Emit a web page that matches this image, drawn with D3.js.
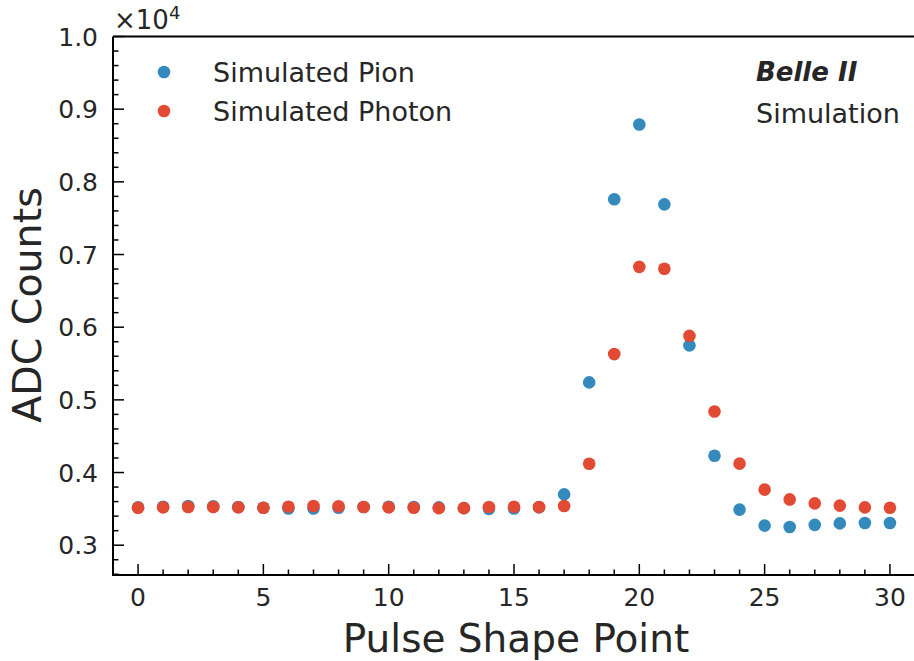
<!DOCTYPE html>
<html>
<head>
<meta charset="utf-8">
<script src="https://cdn.jsdelivr.net/npm/d3@7"></script>
<style>
  html, body { margin: 0; padding: 0; background: #fff; }
  svg { display: block; font-family: "DejaVu Sans", sans-serif; }
</style>
</head>
<body>
<svg id="chart" width="914" height="661"></svg>
<script>
// Pulse shape sample index
const points = d3.range(0, 31);

// ADC counts per sample point
const pionCounts = [3520, 3530, 3540, 3535, 3525, 3515, 3505, 3505, 3515, 3525,
                    3530, 3525, 3520, 3510, 3500, 3505, 3520, 3700, 5240, 7760,
                    8790, 7690, 5750, 4230, 3490, 3270, 3250, 3280, 3300, 3305, 3305];
const photonCounts = [3515, 3520, 3525, 3525, 3520, 3515, 3530, 3540, 3535, 3525,
                      3520, 3515, 3510, 3510, 3525, 3530, 3525, 3540, 4120, 5630,
                      6830, 6805, 5880, 4840, 4122, 3765, 3630, 3575, 3545, 3520, 3515];

const seriesNames = ["Simulated Pion", "Simulated Photon"];
const seriesColors = ["#348ABD", "#E24A33"];

const xTicks = [0, 5, 10, 15, 20, 25, 30];
const yTicks = [3000, 4000, 5000, 6000, 7000, 8000, 9000, 10000];

const svg = d3.select("#chart");
const plotLeft = 113, plotRight = 915, plotTop = 36.5, plotBottom = 575;

const x = d3.scaleLinear().domain([-1, 31]).range([plotLeft, plotRight]);
const y = d3.scaleLinear().domain([2590, 10000]).range([plotBottom, plotTop]);

const fmtY = v => (v / 1e4).toFixed(1);

// minor ticks
const xMinor = d3.range(-1, 32).filter(v => v % 5 !== 0);
const yMinor = d3.range(2600, 10001, 200).filter(v => v % 1000 !== 0);

const tickG = svg.append("g").attr("stroke", "#000").attr("stroke-width", 1.5);
tickG.selectAll(".xmaj").data(xTicks).join("line")
  .attr("x1", d => x(d)).attr("x2", d => x(d))
  .attr("y1", plotBottom).attr("y2", plotBottom - 11);
tickG.selectAll(".xmin").data(xMinor).join("line")
  .attr("x1", d => x(d)).attr("x2", d => x(d))
  .attr("y1", plotBottom).attr("y2", plotBottom - 5.5);
tickG.selectAll(".ymaj").data(yTicks).join("line")
  .attr("x1", plotLeft).attr("x2", plotLeft + 11)
  .attr("y1", d => y(d)).attr("y2", d => y(d));
tickG.selectAll(".ymin").data(yMinor).join("line")
  .attr("x1", plotLeft).attr("x2", plotLeft + 5.5)
  .attr("y1", d => y(d)).attr("y2", d => y(d));

// tick labels
svg.append("g").selectAll("text").data(xTicks).join("text")
  .attr("x", d => x(d)).attr("y", plotBottom + 31)
  .attr("text-anchor", "middle")
  .attr("font-size", 25).attr("fill", "#262626")
  .text(d => d);
svg.append("g").selectAll("text").data(yTicks).join("text")
  .attr("x", plotLeft - 15).attr("y", d => y(d))
  .attr("dy", "0.36em")
  .attr("text-anchor", "end")
  .attr("font-size", 25).attr("fill", "#262626")
  .text(fmtY);

// offset text
const off = svg.append("text").attr("x", plotLeft + 1).attr("y", 29)
  .attr("font-size", 26).attr("fill", "#262626");
off.append("tspan").text("×10");
off.append("tspan").attr("font-size", 18).attr("dy", -10).text("4");

// spines
svg.append("path")
  .attr("d", `M${plotLeft},${plotTop}H${plotRight}M${plotLeft},${plotTop}V${plotBottom}H${plotRight}`)
  .attr("fill", "none").attr("stroke", "#000").attr("stroke-width", 2);

// data points
svg.append("clipPath").attr("id", "plotclip")
  .append("rect").attr("x", plotLeft).attr("y", plotTop)
  .attr("width", plotRight - plotLeft).attr("height", plotBottom - plotTop);

const seriesData = [pionCounts, photonCounts];
seriesData.forEach((vals, i) => {
  svg.append("g").attr("clip-path", "url(#plotclip)")
    .selectAll("circle").data(points).join("circle")
    .attr("cx", d => x(d)).attr("cy", d => y(vals[d]))
    .attr("r", 6.3).attr("fill", seriesColors[i]);
});

// legend
const legend = svg.append("g");
seriesNames.forEach((name, i) => {
  const ly = 72 + i * 39;
  legend.append("circle").attr("cx", 164).attr("cy", ly).attr("r", 6.3).attr("fill", seriesColors[i]);
  legend.append("text").attr("x", 213).attr("y", ly).attr("dy", "0.36em")
    .attr("font-size", 27).attr("fill", "#262626").text(name);
});

// experiment label
svg.append("text").attr("x", 756).attr("y", 72).attr("dy", "0.36em")
  .attr("font-size", 26).attr("font-weight", "bold").attr("font-style", "italic")
  .attr("fill", "#262626").text("Belle II");
svg.append("text").attr("x", 756).attr("y", 113).attr("dy", "0.36em")
  .attr("font-size", 27).attr("fill", "#262626").text("Simulation");

// axis titles
svg.append("text").attr("x", 516).attr("y", 652)
  .attr("text-anchor", "middle").attr("font-size", 39).attr("fill", "#262626")
  .text("Pulse Shape Point");
svg.append("text").attr("transform", `translate(41,${(188 + 422) / 2}) rotate(-90)`)
  .attr("text-anchor", "middle").attr("font-size", 39.5).attr("fill", "#262626")
  .text("ADC Counts");
</script>
</body>
</html>
